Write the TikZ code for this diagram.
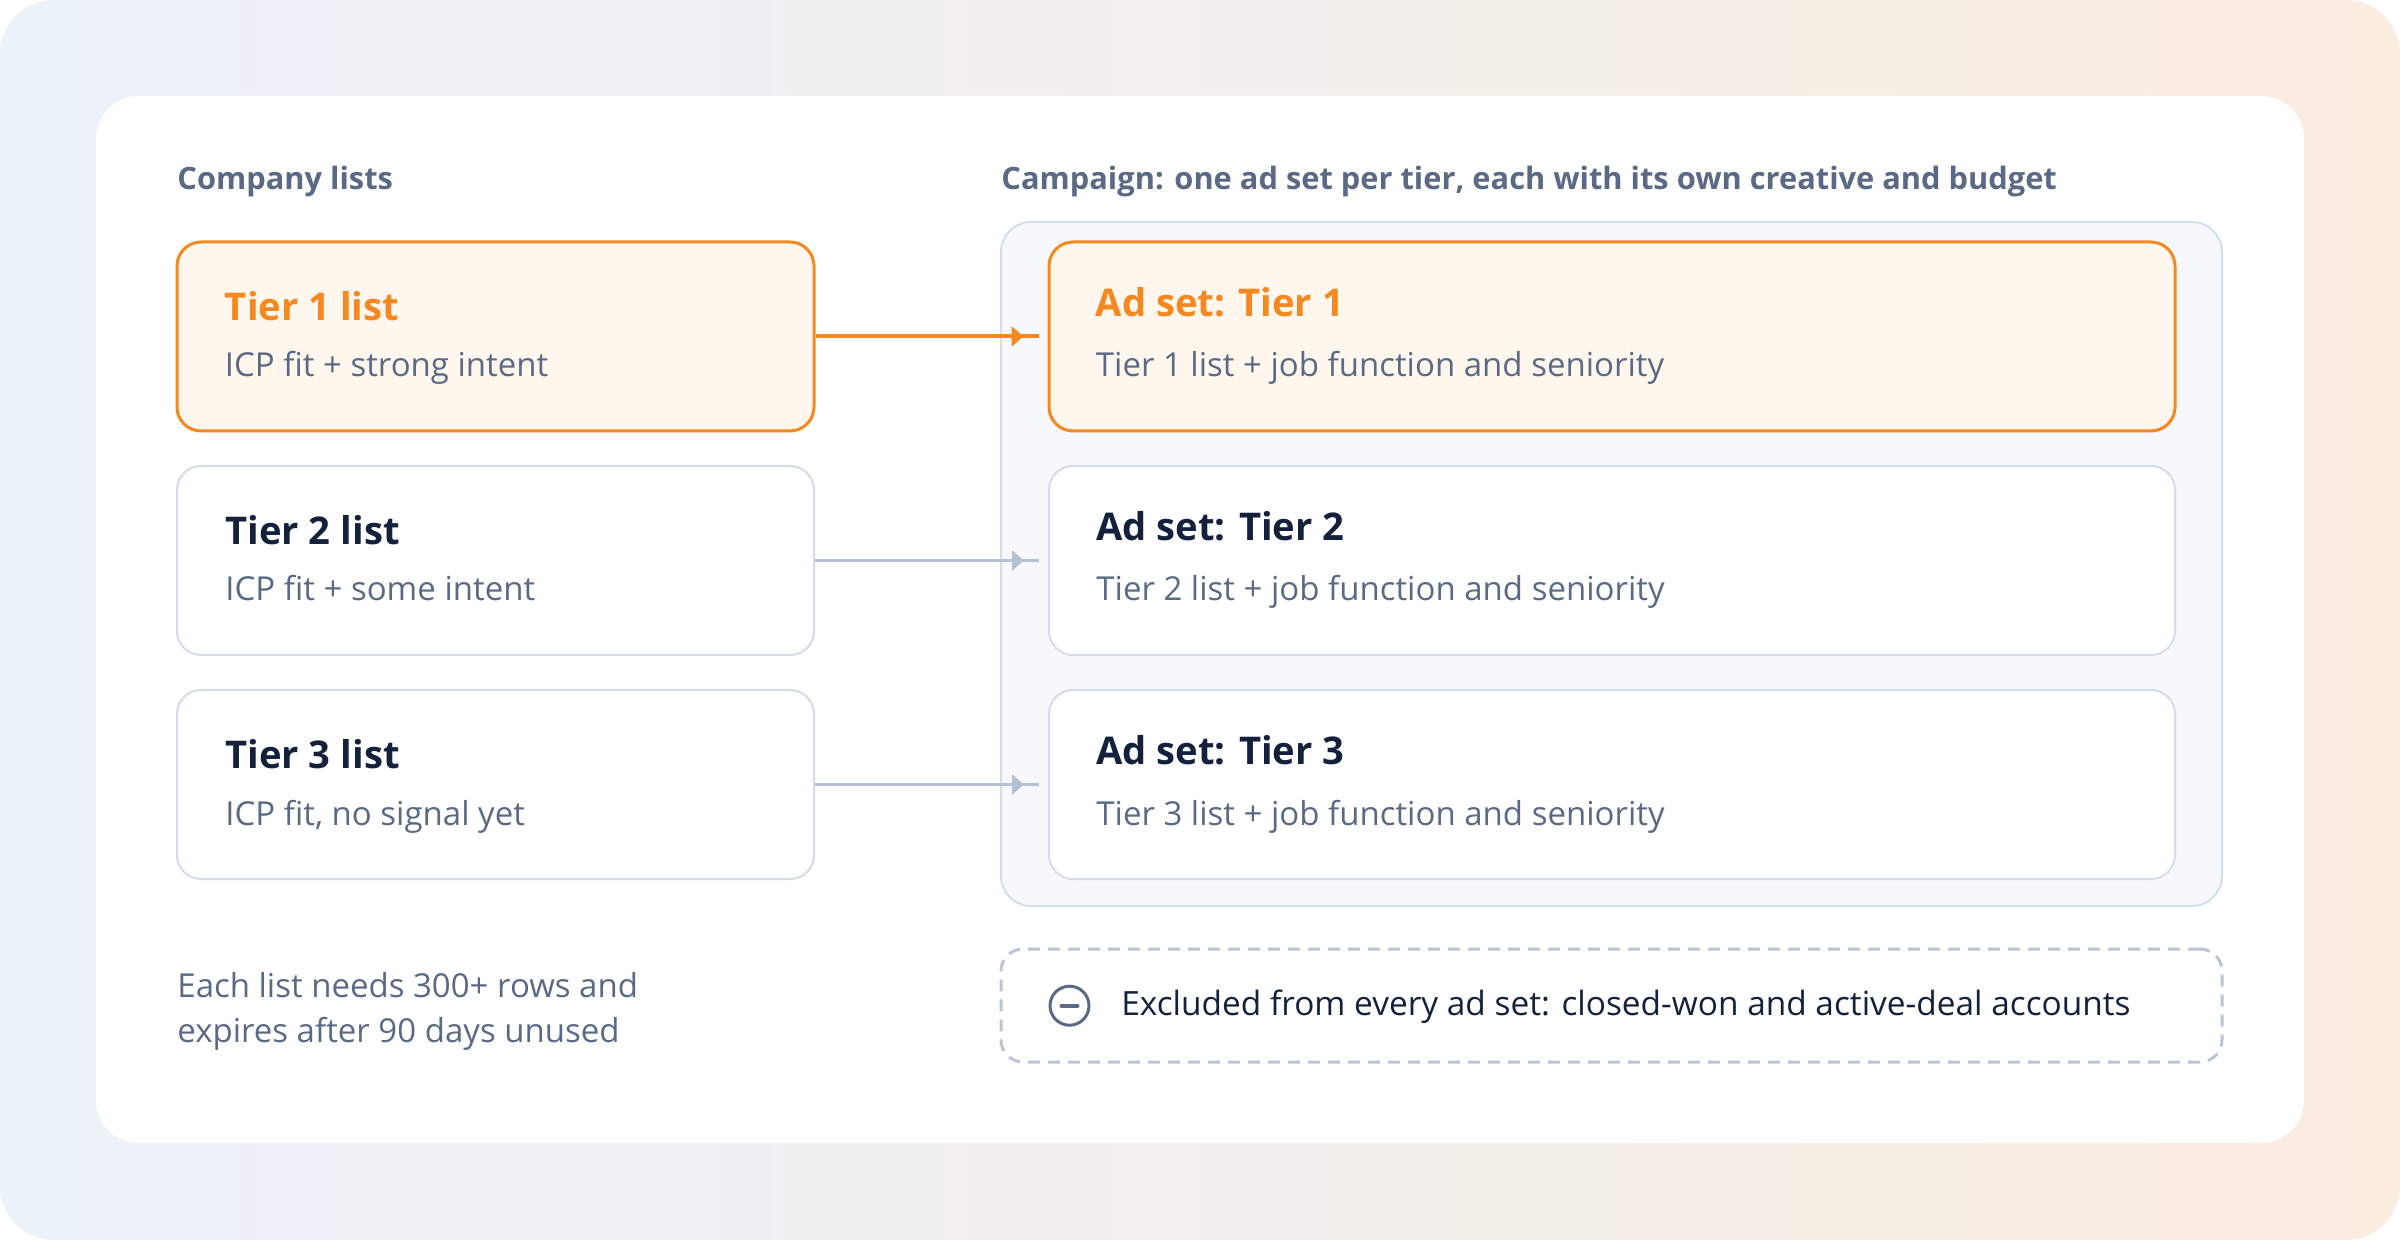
\documentclass[tikz,border=0pt]{standalone}
\usepackage{fontspec}
\setmainfont{Open Sans}
\usetikzlibrary{arrows.meta,calc}
\definecolor{bgL}{HTML}{ECF2FA}
\definecolor{bgR}{HTML}{FAEDE0}
\definecolor{orng}{HTML}{F5891F}
\definecolor{orngF}{HTML}{FFF7EE}
\definecolor{txtG}{HTML}{5A6A85}
\definecolor{navy}{HTML}{14213D}
\definecolor{boxB}{HTML}{D5DCE8}
\definecolor{contF}{HTML}{F6F8FC}
\definecolor{contB}{HTML}{D3DDEC}
\definecolor{arrG}{HTML}{B6BFD4}
\definecolor{dashB}{HTML}{BCC4D6}
\begin{document}
\begin{tikzpicture}[x=0.5pt,y=-0.5pt,
  listbox/.style={draw=boxB, fill=white, line width=1pt, rounded corners=12pt,
    minimum width=318.5pt, minimum height=94.5pt, inner sep=0pt},
  adbox/.style={listbox, minimum width=563pt},
  hlbox/.style={draw=orng, fill=orngF, line width=1.5pt},
  ttl/.style={anchor=base west, inner sep=0pt, text=navy,
    font=\fontsize{19.1pt}{23pt}\selectfont\bfseries},
  sub/.style={anchor=base west, inner sep=0pt, text=txtG,
    font=\fontsize{16.5pt}{20pt}\selectfont},
  head/.style={anchor=base west, inner sep=0pt, text=txtG,
    font=\fontsize{15.4pt}{20pt}\selectfont\bfseries},
  note/.style={anchor=base west, inner sep=0pt, text=txtG,
    font=\fontsize{16.5pt}{20pt}\selectfont},
  oline/.style={draw=orng, line width=2pt},
  gline/.style={draw=arrG, line width=1.4pt},
  tip/.style={-{Triangle[length=6pt,width=10pt]}}
]
\useasboundingbox (0,0) rectangle (2400,1240);
\fill[white] (0,0) rectangle (2400,1240);
\shade[left color=bgL, right color=bgR, rounded corners=27pt] (0,0) rectangle (2400,1240);
\fill[white, rounded corners=21.5pt] (96,96) rectangle (2304,1143);

% headings
\node[head] (h1) at (177,190) {Company lists};
\node[head] (h2) at (1001,190) {Campaign: one ad set per tier, each with its own creative and budget};

% campaign container
\node[draw=contB, fill=contF, line width=1pt, rounded corners=15pt,
  minimum width=610.5pt, minimum height=342pt, inner sep=0pt] (camp) at (1611.5,564) {};

% list boxes
\node[listbox, hlbox] (L1) at (495.5,336.5) {};
\node[listbox] (L2) at (495.5,560.5) {};
\node[listbox] (L3) at (495.5,784.5) {};
% ad set boxes
\node[adbox, hlbox] (A1) at (1612,336.5) {};
\node[adbox] (A2) at (1612,560.5) {};
\node[adbox] (A3) at (1612,784.5) {};

% texts in list boxes
\node[ttl, text=orng] (L1t) at ($(L1.north west)+(49,80)$) {Tier 1 list};
\node[sub] (L1s) at ($(L1.north west)+(49,136)$) {ICP fit + strong intent};
\node[ttl] (L2t) at ($(L2.north west)+(49,80)$) {Tier 2 list};
\node[sub] (L2s) at ($(L2.north west)+(49,136)$) {ICP fit + some intent};
\node[ttl] (L3t) at ($(L3.north west)+(49,80)$) {Tier 3 list};
\node[sub] (L3s) at ($(L3.north west)+(49,136)$) {ICP fit, no signal yet};

% texts in ad set boxes
\node[ttl, text=orng] (A1t) at ($(A1.north west)+(48,76)$) {Ad set: Tier 1};
\node[sub] (A1s) at ($(A1.north west)+(48,136)$) {Tier 1 list + job function and seniority};
\node[ttl] (A2t) at ($(A2.north west)+(48,76)$) {Ad set: Tier 2};
\node[sub] (A2s) at ($(A2.north west)+(48,136)$) {Tier 2 list + job function and seniority};
\node[ttl] (A3t) at ($(A3.north west)+(48,76)$) {Ad set: Tier 3};
\node[sub] (A3s) at ($(A3.north west)+(48,136)$) {Tier 3 list + job function and seniority};

% connectors
\draw[oline, tip] (L1.east) -- ($(A1.west)+(-24,0)$);
\draw[oline] ($(A1.west)+(-30,0)$) -- ($(A1.west)+(-9,0)$);
\draw[gline, tip, arrG] (L2.east) -- ($(A2.west)+(-24,0)$);
\draw[gline] ($(A2.west)+(-30,0)$) -- ($(A2.west)+(-9,0)$);
\draw[gline, tip, arrG] (L3.east) -- ($(A3.west)+(-24,0)$);
\draw[gline] ($(A3.west)+(-30,0)$) -- ($(A3.west)+(-9,0)$);

% footer note
\node[note] (n1) at (177,997) {Each list needs 300+ rows and};
\node[note] (n2) at (177,1042) {expires after 90 days unused};

% exclusion box
\node[draw=dashB, line width=1.5pt, dash pattern=on 6pt off 4pt, rounded corners=11pt,
  minimum width=610.5pt, minimum height=56.5pt, inner sep=0pt] (ex) at (1611.5,1005.5) {};
\node[draw=txtG, line width=1.5pt, circle, minimum size=19.5pt, inner sep=0pt] (ic) at (1069.5,1005.7) {};
\draw[txtG, line width=2pt, line cap=round] ($(ic.center)+(-8,0)$) -- ($(ic.center)+(8,0)$);
\node[anchor=base west, inner sep=0pt, text=navy, font=\fontsize{16.7pt}{20pt}\selectfont] (ext) at (1121,1015)
  {Excluded from every ad set: closed-won and active-deal accounts};
\end{tikzpicture}
\end{document}
